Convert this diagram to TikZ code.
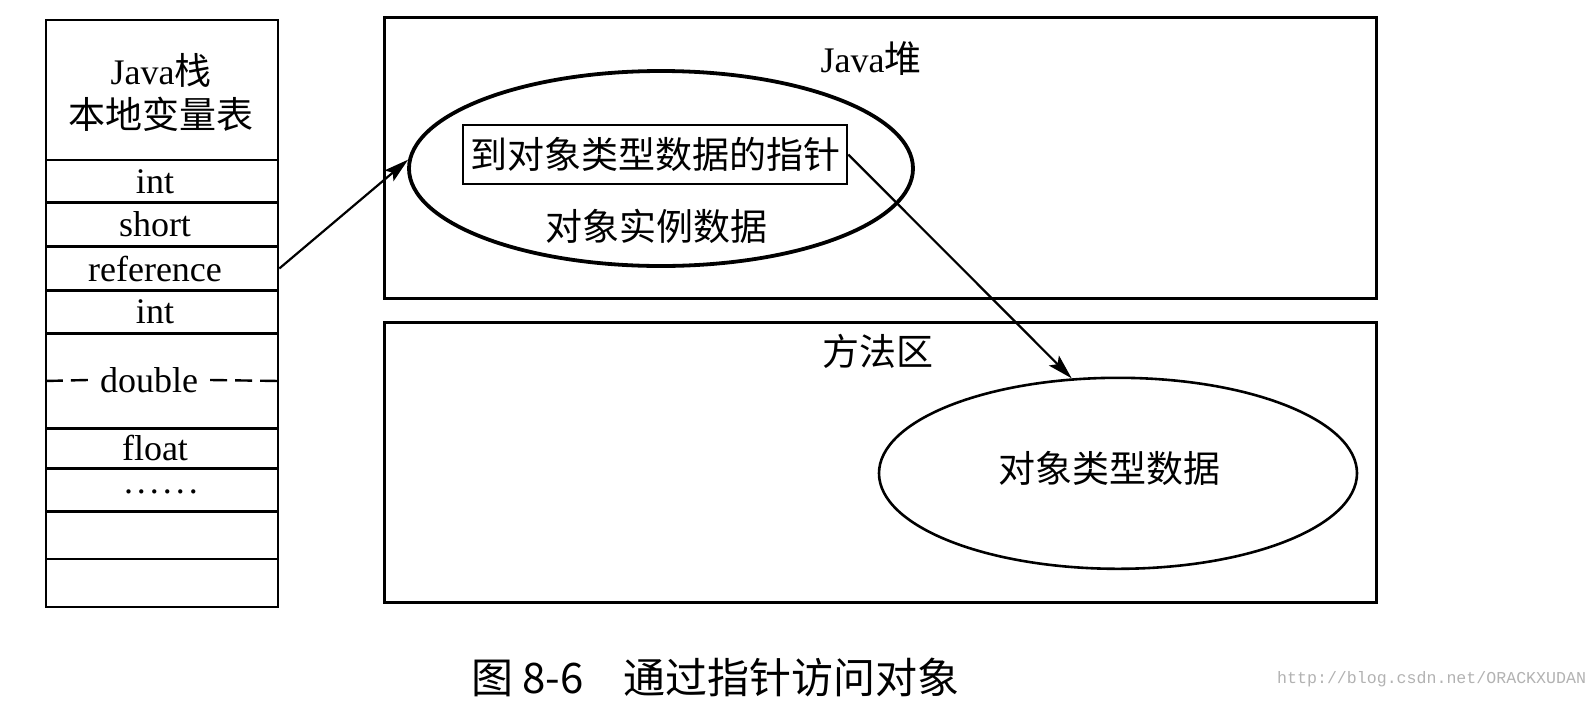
\documentclass[tikz,border=0pt]{standalone}
\usepackage{fontspec}
\setmainfont{Liberation Serif}
\newfontfamily\cjk{Noto Sans CJK SC}
\newfontfamily\wmfont{Liberation Mono}
\usetikzlibrary{shapes.geometric,arrows.meta}
\newcommand\latsz{\fontsize{36}{44}\selectfont}
\newcommand\zhsz{\cjk\fontsize{37}{44}\selectfont}
\begin{document}
\begin{tikzpicture}[x=1pt,y=-1pt,>={Stealth[length=25pt,width=14pt,inset=5pt]},
  cell/.style={draw,line width=2.6pt,minimum width=232pt,inner sep=0pt,font=\latsz},
  lsh/.style={execute at begin node=\hspace*{-14pt}},
  area/.style={draw,line width=3pt,minimum width=992pt,inner sep=0pt},
  oval/.style={draw,ellipse,inner sep=0pt},
  zh/.style={font=\zhsz,inner sep=0pt}]
\useasboundingbox (0,0) rectangle (1596,702);
\node[cell,minimum height=140pt] (head) at (162,90) {};
\node[font=\latsz,align=center,inner sep=0pt] (headl) at (161,92) {Java{\zhsz 栈}\\{\zhsz 本地变量表}};
\node[cell,lsh,minimum height=43pt] (c1) at (162,181.5) {int};
\node[cell,lsh,minimum height=44pt] (c2) at (162,224.5) {short};
\node[cell,lsh,minimum height=44pt] (c3) at (162,268.5) {reference};
\node[cell,lsh,minimum height=43pt] (c4) at (162,312) {int};
\node[cell,minimum height=95pt] (c5) at (162,381) {};
\node[cell,lsh,minimum height=40pt] (c6) at (162,448) {float};
\node[cell,minimum height=43pt] (c7) at (162,490) {};
\node[font=\latsz,inner sep=0pt] (dots) at (161,492) {.\kern4pt.\kern4pt.\kern4pt.\kern4pt.\kern4pt.};
\node[cell,minimum height=48pt] (c8) at (162,535) {};
\node[cell,minimum height=48pt] (c9) at (162,583) {};
\node[font=\latsz,inner xsep=12pt,inner ysep=0pt] (dbl) at (149,380) {double};
\draw[line width=2.4pt,dash pattern=on 17pt off 8pt] (dbl.west) -- (c5.west);
\draw[line width=2.4pt,dash pattern=on 17pt off 8pt] (dbl.east) -- (c5.east);
\node[area,minimum height=281pt] (heap) at (880,157.75) {};
\node[area,minimum height=280pt] (meth) at (880,462.65) {};
\node[font=\latsz,inner sep=0pt] (heapl) at (871,59) {Java{\zhsz 堆}};
\node[zh] (methl) at (878,351) {方法区};
\node[oval,line width=3.8pt,minimum width=504pt,minimum height=195pt] (inst) at (661,168.5) {};
\node[draw,line width=2.6pt,minimum width=384pt,minimum height=59pt,font=\zhsz,inner sep=0pt] (ptr) at (655,154.5) {到对象类型数据的指针};
\node[zh] (instl) at (656.5,226) {对象实例数据};
\node[oval,line width=2.6pt,minimum width=478pt,minimum height=191pt] (tdata) at (1118,473.3) {};
\node[zh] (tdatal) at (1109,468) {对象类型数据};
\draw[->,line width=2.2pt] (c3.east) -- (inst.178);
\draw[->,line width=2.2pt] (ptr.east) -- (tdata.116);
\node[anchor=west,font=\cjk\fontsize{42}{48}\selectfont,inner sep=0pt] (cap) at (471,677) {图 8-6\hspace{40pt}通过指针访问对象};
\node[anchor=west,font=\wmfont\fontsize{16.6}{20}\selectfont,text=gray!60,inner sep=0pt] (wm) at (1277,679) {http://blog.csdn.net/ORACKXUDAN};
\end{tikzpicture}
\end{document}
